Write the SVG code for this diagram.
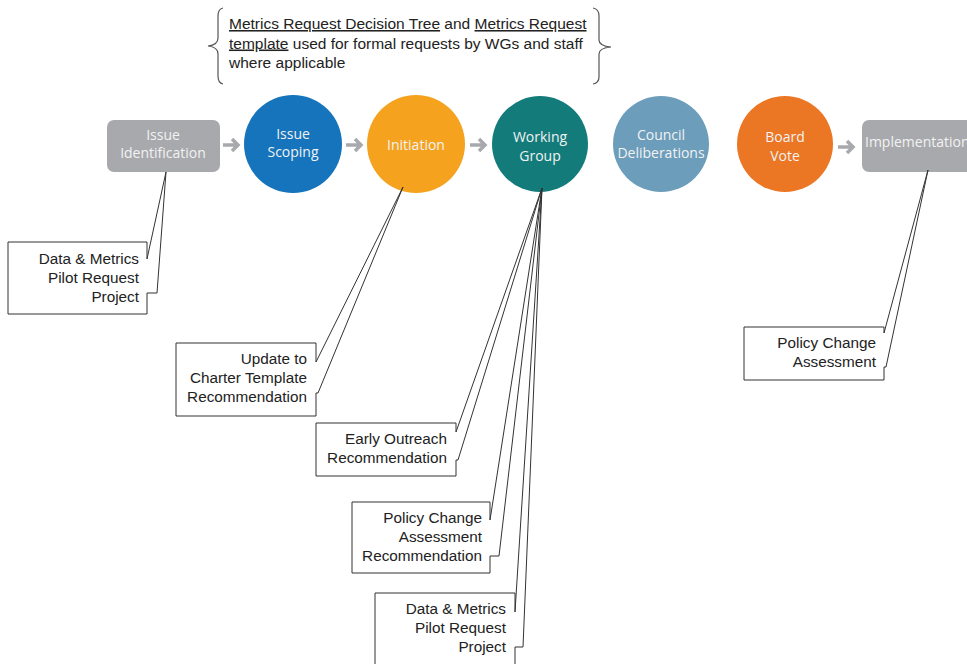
<svg xmlns="http://www.w3.org/2000/svg" width="967" height="664" viewBox="0 0 967 664">
<defs>
<style>
.nt{font-family:"Open Sans","DejaVu Sans",sans-serif;font-size:14px;text-anchor:middle;fill:#f2f2f2}
.ct{font-family:"Liberation Sans",Arial,sans-serif;font-size:15.3px;text-anchor:end;fill:#222}
.bt{font-family:"Liberation Sans",Arial,sans-serif;font-size:15.5px;fill:#222}
.co{fill:#fff;stroke:#333;stroke-width:1}
.ar{fill:none;stroke:#a7a9ac;stroke-width:3.5}
.br{fill:none;stroke:#555;stroke-width:1.2}
</style>
</defs>
<rect width="967" height="664" fill="#fff"/>

<g id="brace-note">
<path class="br" d="M223,8 Q218,9 218,16 L218,38 Q218,45 208,46 Q218,47 218,54 L218,76 Q218,83 223,84"/>
<path class="br" d="M593,8 Q599,9 599,16 L599,40 Q599,46 611,47 Q599,48 599,54 L599,77 Q599,83 593,84"/>
<text class="bt" x="229" y="29"><tspan text-decoration="underline">Metrics Request Decision Tree</tspan> and <tspan text-decoration="underline">Metrics Request</tspan></text>
<text class="bt" x="229" y="48.5"><tspan text-decoration="underline">template</tspan> used for formal requests by WGs and staff</text>
<text class="bt" x="229" y="68">where applicable</text>
</g>

<g id="connectors">
<path class="ar" d="M223,145 H238 M232,139 L238,145 L232,151"/>
<path class="ar" d="M346,145 H361 M355,139 L361,145 L355,151"/>
<path class="ar" d="M470,145 H485 M479,139 L485,145 L479,151"/>
<path class="ar" d="M838,147 H853 M847,141 L853,147 L847,153"/>
</g>

<g id="issue-identification">
<rect x="107" y="120" width="113" height="52" rx="7" fill="#a7a9ac"/>
<text class="nt" x="163" y="140" fill="#e6e7e8">Issue</text>
<text class="nt" x="163" y="158" fill="#e6e7e8">Identification</text>
</g>
<g id="issue-scoping">
<circle cx="293" cy="144" r="49" fill="#1574bb"/>
<text class="nt" x="293" y="139">Issue</text>
<text class="nt" x="293" y="157">Scoping</text>
</g>
<g id="initiation">
<circle cx="416" cy="144" r="49" fill="#f5a31f"/>
<text class="nt" x="416" y="150">Initiation</text>
</g>
<g id="working-group">
<circle cx="540" cy="144" r="48" fill="#137c7b"/>
<text class="nt" x="540" y="142">Working</text>
<text class="nt" x="540" y="161">Group</text>
</g>
<g id="council-deliberations">
<circle cx="661" cy="144" r="48" fill="#6c9dbb"/>
<text class="nt" x="661" y="140">Council</text>
<text class="nt" x="661" y="158">Deliberations</text>
</g>
<g id="board-vote">
<circle cx="785" cy="144" r="48" fill="#eb7623"/>
<text class="nt" x="785" y="142">Board</text>
<text class="nt" x="785" y="161">Vote</text>
</g>
<g id="implementation">
<rect x="862" y="120" width="120" height="52" rx="7" fill="#a7a9ac"/>
<text class="nt" x="865" y="147" style="text-anchor:start" fill="#e6e7e8">Implementation</text>
</g>

<g id="callout-data-metrics-1">
<path class="co" d="M8,242 H147 V259 L166,172 L157,293 H147 V314 H8 Z"/>
<text class="ct" x="139" y="264">Data &amp; Metrics</text>
<text class="ct" x="139" y="283">Pilot Request</text>
<text class="ct" x="139" y="302">Project</text>
</g>
<g id="callout-charter">
<path class="co" d="M176,343 H316 V362 L403,187 L318,393 H316 V416 H176 Z"/>
<text class="ct" x="307" y="364">Update to</text>
<text class="ct" x="307" y="383">Charter Template</text>
<text class="ct" x="307" y="402">Recommendation</text>
</g>
<g id="callout-early-outreach">
<path class="co" d="M316,423 H456 V432 L542,188 L458,460 H456 V476 H316 Z"/>
<text class="ct" x="447" y="444">Early Outreach</text>
<text class="ct" x="447" y="463">Recommendation</text>
</g>
<g id="callout-policy-rec">
<path class="co" d="M352,502 H490 V520 L542,188 L499,556 H490 V573 H352 Z"/>
<text class="ct" x="482" y="523">Policy Change</text>
<text class="ct" x="482" y="542">Assessment</text>
<text class="ct" x="482" y="561">Recommendation</text>
</g>
<g id="callout-data-metrics-2">
<path class="co" d="M375,593 H515 V612 L542,188 L523,647 H515 V668 H375 Z"/>
<text class="ct" x="506" y="614">Data &amp; Metrics</text>
<text class="ct" x="506" y="633">Pilot Request</text>
<text class="ct" x="506" y="652">Project</text>
</g>
<g id="callout-policy-assessment">
<path class="co" d="M744,327 H884 V333 L928,170 L886,367 H884 V380 H744 Z"/>
<text class="ct" x="876" y="348">Policy Change</text>
<text class="ct" x="876" y="367">Assessment</text>
</g>
</svg>
